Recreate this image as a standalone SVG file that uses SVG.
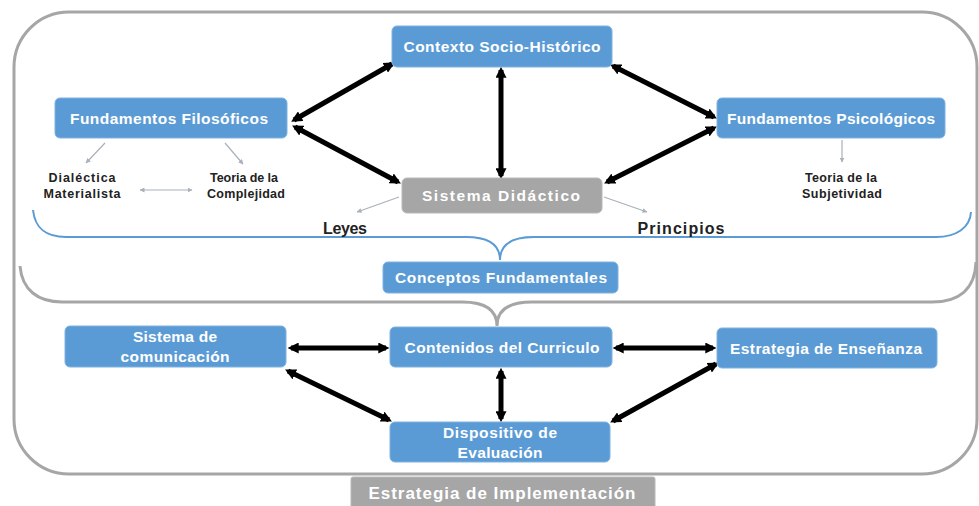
<svg xmlns="http://www.w3.org/2000/svg" width="979" height="506" viewBox="0 0 979 506">
<defs>
<style>
.box{fill:#5b9bd5;stroke:#7fb2e2;stroke-width:1}
.gbox{fill:#a6a6a6;stroke:#b8b8b8;stroke-width:1}
.lbl{font-family:"Liberation Sans",Arial,sans-serif;font-weight:bold;font-size:15.5px;fill:#ffffff;text-anchor:middle}
.sm{font-family:"Liberation Sans",Arial,sans-serif;font-weight:bold;font-size:12.5px;fill:#222222;text-anchor:middle}
.md{font-family:"Liberation Sans",Arial,sans-serif;font-weight:bold;font-size:16px;fill:#222222;text-anchor:middle}
.big{stroke:#000000;stroke-width:5;fill:none;marker-start:url(#ah);marker-end:url(#ah)}
.thin{stroke:#a9b1ba;stroke-width:1.2;fill:none;marker-end:url(#th)}
.thin2{stroke:#a9b1ba;stroke-width:1.2;fill:none;marker-start:url(#th);marker-end:url(#th)}
.frame{fill:none;stroke:#a6a6a6;stroke-width:3}
.brace{fill:none;stroke:#5b9bd5;stroke-width:2}
</style>
<marker id="ah" viewBox="0 0 10 10" refX="7" refY="5" markerWidth="11" markerHeight="11" markerUnits="userSpaceOnUse" orient="auto-start-reverse">
<path d="M0,0 L10,5 L0,10 z" fill="#000000"/>
</marker>
<marker id="th" viewBox="0 0 10 10" refX="9" refY="5" markerWidth="5" markerHeight="5" markerUnits="userSpaceOnUse" orient="auto-start-reverse">
<path d="M0,0 L10,5 L0,10 z" fill="#a9b1ba"/>
</marker>
</defs>

<g id="frames">
<rect class="frame" x="14" y="12" width="963" height="462" rx="55" ry="55"/>
<path class="frame" d="M20,266 C22,290 38,302 62,302 H462 C486,302 497,310 497,326 C497,310 508,302 532,302 H932 C958,302 975,290 976,262"/>
<path class="brace" d="M33,210 C35,228 45,237 66,237 H466 C490,237 500,245 500,260 C500,245 510,237 534,237 H936 C956,237 970,228 971,212"/>
</g>

<g id="connectors">
<line class="big" x1="294" y1="120" x2="392" y2="64"/>
<line class="big" x1="295" y1="127" x2="398" y2="182"/>
<line class="big" x1="501" y1="70" x2="501" y2="176"/>
<line class="big" x1="613" y1="66" x2="714" y2="117"/>
<line class="big" x1="714" y1="128" x2="607" y2="182"/>
<line class="big" x1="291" y1="348" x2="386" y2="348"/>
<line class="big" x1="288" y1="371" x2="389" y2="420"/>
<line class="big" x1="501" y1="371" x2="501" y2="419"/>
<line class="big" x1="616" y1="348" x2="713" y2="348"/>
<line class="big" x1="716" y1="364" x2="613" y2="421"/>
<line class="thin" x1="105" y1="143" x2="86" y2="163"/>
<line class="thin" x1="225" y1="143" x2="243" y2="164"/>
<line class="thin2" x1="140" y1="190" x2="192" y2="190"/>
<line class="thin" x1="399" y1="197" x2="357" y2="212"/>
<line class="thin" x1="604" y1="197" x2="647" y2="212"/>
<line class="thin" x1="842" y1="140" x2="842" y2="162"/>
</g>

<g id="contexto">
<rect class="box" x="392" y="26" width="220" height="41" rx="5"/>
<text class="lbl" x="502" y="52" textLength="197" lengthAdjust="spacing">Contexto Socio-Histórico</text>
</g>
<g id="filosoficos">
<rect class="box" x="55" y="98" width="232" height="40" rx="5"/>
<text class="lbl" x="169" y="124" textLength="198" lengthAdjust="spacing">Fundamentos Filosóficos</text>
</g>
<g id="psicologicos">
<rect class="box" x="717" y="98" width="228" height="40" rx="5"/>
<text class="lbl" x="831" y="124" textLength="208" lengthAdjust="spacing">Fundamentos Psicológicos</text>
</g>
<g id="sistema-didactico">
<rect class="gbox" x="402" y="178" width="200" height="35" rx="5"/>
<text class="lbl" x="501" y="201" textLength="158" lengthAdjust="spacing">Sistema Didáctico</text>
</g>
<g id="conceptos">
<rect class="box" x="383" y="262" width="235" height="31" rx="5"/>
<text class="lbl" x="501" y="283" textLength="212" lengthAdjust="spacing">Conceptos Fundamentales</text>
</g>
<g id="comunicacion">
<rect class="box" x="65" y="326" width="221" height="41" rx="5"/>
<text class="lbl" x="175" y="342" textLength="84" lengthAdjust="spacing">Sistema de</text>
<text class="lbl" x="175" y="362" textLength="109" lengthAdjust="spacing">comunicación</text>
</g>
<g id="contenidos">
<rect class="box" x="390" y="327" width="222" height="40" rx="5"/>
<text class="lbl" x="502" y="353" textLength="195" lengthAdjust="spacing">Contenidos del Curriculo</text>
</g>
<g id="ensenanza">
<rect class="box" x="717" y="328" width="220" height="40" rx="5"/>
<text class="lbl" x="826" y="354" textLength="192" lengthAdjust="spacing">Estrategia de Enseñanza</text>
</g>
<g id="dispositivo">
<rect class="box" x="390" y="422" width="220" height="40" rx="5"/>
<text class="lbl" x="500" y="438" textLength="114" lengthAdjust="spacing">Dispositivo de</text>
<text class="lbl" x="500" y="458" textLength="85" lengthAdjust="spacing">Evaluación</text>
</g>
<g id="implementacion">
<rect class="gbox" x="351" y="477" width="304" height="34" rx="2"/>
<text class="lbl" x="502" y="499" style="font-size:17px" textLength="267" lengthAdjust="spacing">Estrategia de Implementación</text>
</g>

<g id="dialectica">
<text class="sm" x="82" y="182" textLength="67" lengthAdjust="spacing">Dialéctica</text>
<text class="sm" x="82" y="198" textLength="77" lengthAdjust="spacing">Materialista</text>
</g>
<g id="complejidad">
<text class="sm" x="244" y="182" textLength="68" lengthAdjust="spacing">Teoria de la</text>
<text class="sm" x="246" y="198" textLength="78" lengthAdjust="spacing">Complejidad</text>
</g>
<g id="subjetividad">
<text class="sm" x="841" y="182" textLength="72" lengthAdjust="spacing">Teoria de la</text>
<text class="sm" x="842" y="198" textLength="80" lengthAdjust="spacing">Subjetividad</text>
</g>
<g id="leyes">
<text class="md" x="345" y="234" textLength="44" lengthAdjust="spacing">Leyes</text>
</g>
<g id="principios">
<text class="md" x="681" y="234" textLength="87" lengthAdjust="spacing">Principios</text>
</g>
</svg>
